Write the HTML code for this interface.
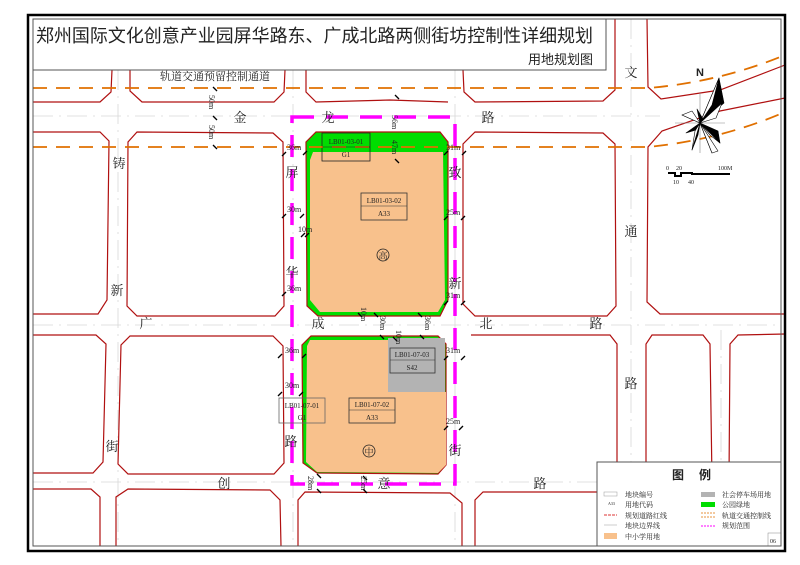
<!DOCTYPE html>
<html><head><meta charset="utf-8"><style>
html,body{margin:0;padding:0;background:#fff;width:800px;height:565px;overflow:hidden}
svg{display:block}
text{font-family:"Liberation Serif","Noto Serif CJK SC","Noto Sans CJK SC",serif;fill:#222}
.s{font-family:"Liberation Sans","Noto Sans CJK SC",sans-serif}
.r{font-size:13px}
.d{font-size:8px}
.b{fill:none;stroke:#b01010;stroke-width:1.2}
.c{fill:none;stroke:#d8d8d8;stroke-width:0.8;stroke-dasharray:20 6 2 6}
</style></head><body>
<svg width="800" height="565" viewBox="0 0 800 565" xmlns="http://www.w3.org/2000/svg">
<rect width="800" height="565" fill="#fff"/>
<g class="c">
<line x1="33" y1="116" x2="660" y2="116"/><line x1="33" y1="325" x2="781" y2="325"/><line x1="33" y1="482" x2="600" y2="482"/>
<line x1="118" y1="70" x2="118" y2="546"/><line x1="293" y1="70" x2="293" y2="546"/><line x1="455" y1="70" x2="455" y2="546"/><line x1="631" y1="19" x2="631" y2="546"/><line x1="721" y1="330" x2="721" y2="460"/>
</g>
<g class="b">
<path d="M33 102 L100 102 L111 92 L112 70"/>
<path d="M130 70 L130 91 L142 102 L274 102 L284 92 L285 70"/>
<path d="M306 70 L306 92 L316 102 L390 100 L448 102"/>
<path d="M463 70 L464 92 L475 102 L603 101 L615 90 L615 19"/>
<path d="M647 19 L648 87 L661 99 L720 90 L785 65"/>
<path d="M33 132 L100 132 L109 141 L107 300 L98 314 L33 314"/>
<path d="M137 132 L273 133 L283 142 L284 306 L275 316 L137 316 L127 306 L128 142 Z"/>
<path d="M475 132 L603 133 L615 144 L616 306 L607 316 L475 316 L463 304 L463 144 Z"/>
<path d="M785 98 L720 111 L662 131 L648 147 L647 302 L660 314 L785 314"/>
<path d="M33 335 L96 335 L106 344 L103 462 L93 473 L33 473"/>
<path d="M130 336 L273 336 L283 346 L284 463 L274 474 L128 474 L118 464 L121 345 Z"/>
<path d="M471 335 L610 335 L617 344 L617 480"/>
<path d="M646 480 L646 344 L652 335 L703 335 L710 344 L712 480"/>
<path d="M729 480 L730 344 L738 335 L785 334"/>
<path d="M33 489 L91 489 L100 497 L100 546"/>
<path d="M116 546 L116 497 L128 489 L270 490 L280 500 L281 546"/>
<path d="M298 546 L298 500 L305 492 L450 493 L462 503 L462 546"/>
<path d="M475 546 L475 500 L483 492 L597 492"/>
</g>
<path d="M316 132 L440 132 L448 142 L448 300 L440 316 L318 316 L307 306 L306 142 Z" fill="#00dd00" stroke="#b01010" stroke-width="1.2"/>
<path d="M313 152 L443 152 L445 300 L438 312 L320 312 L310 300 L310 160 Z" fill="#f8c18c"/>
<rect x="322" y="133" width="48" height="28" fill="none" stroke="#222" stroke-width="0.8"/>
<path d="M311 336 L438 336 L446 344 L446 465 L438 474 L317 473 L303 463 L302 345 Z" fill="#00dd00" stroke="#b01010" stroke-width="1.2"/>
<path d="M310 340 L388 340 L388 392 L446 392 L446 465 L438 473 L317 472 L306 462 L307 346 Z" fill="#f8c18c"/>
<rect x="388" y="338" width="57" height="54" fill="#b3b3b3"/>
<g fill="none" stroke="#e07000" stroke-width="1.8" stroke-dasharray="14 9">
<path d="M33 88 L648 88 Q720 82 785 55"/>
<path d="M33 147 L648 147 Q720 140 785 112"/>
</g>
<path d="M292 117 L455 117 L455 484 L292 484 Z" fill="none" stroke="#ff00ff" stroke-width="3.5" stroke-dasharray="22 12"/>
<!-- dimension ticks -->
<g stroke="#000" stroke-width="1.3">
<line x1="282" y1="156" x2="286" y2="152"/><line x1="303" y1="155" x2="307" y2="151"/>
<line x1="444" y1="155" x2="448" y2="151"/><line x1="462" y1="155" x2="466" y2="151"/>
<line x1="282" y1="218" x2="286" y2="214"/><line x1="300" y1="218" x2="304" y2="214"/>
<line x1="301" y1="237" x2="305" y2="233"/><line x1="305" y1="237" x2="309" y2="233"/>
<line x1="444" y1="220" x2="448" y2="216"/><line x1="461" y1="220" x2="465" y2="216"/>
<line x1="282" y1="296" x2="286" y2="292"/><line x1="444" y1="305" x2="448" y2="301"/><line x1="461" y1="305" x2="465" y2="301"/>
<line x1="358" y1="313" x2="362" y2="317"/><line x1="374" y1="313" x2="378" y2="317"/><line x1="418" y1="313" x2="422" y2="317"/>
<line x1="393" y1="337" x2="397" y2="341"/><line x1="380" y1="335" x2="384" y2="339"/><line x1="420" y1="335" x2="424" y2="339"/>
<line x1="278" y1="358" x2="282" y2="354"/><line x1="302" y1="358" x2="306" y2="354"/>
<line x1="444" y1="360" x2="448" y2="356"/><line x1="461" y1="360" x2="465" y2="356"/>
<line x1="278" y1="396" x2="282" y2="392"/><line x1="299" y1="396" x2="303" y2="392"/>
<line x1="444" y1="430" x2="448" y2="426"/><line x1="459" y1="430" x2="463" y2="426"/>
<line x1="317" y1="474" x2="321" y2="478"/><line x1="317" y1="489" x2="321" y2="493"/>
<line x1="363" y1="476" x2="367" y2="480"/><line x1="363" y1="489" x2="367" y2="493"/>
<line x1="395" y1="95" x2="399" y2="99"/><line x1="395" y1="159" x2="399" y2="163"/>
<line x1="213" y1="87" x2="217" y2="91"/><line x1="213" y1="116" x2="217" y2="120"/><line x1="213" y1="145" x2="217" y2="149"/>
</g>
<g class="s" font-size="7" text-anchor="middle">
<line x1="322" y1="147" x2="370" y2="147" stroke="#222" stroke-width="0.5"/>
<text x="346" y="144">LB01-03-01</text><text x="346" y="157">G1</text>
<rect x="361" y="193" width="46" height="27" fill="none" stroke="#333" stroke-width="0.8"/>
<line x1="361" y1="206" x2="407" y2="206" stroke="#333" stroke-width="0.5"/>
<text x="384" y="203">LB01-03-02</text><text x="384" y="216">A33</text>
<rect x="390" y="348" width="45" height="25" fill="none" stroke="#333" stroke-width="0.8"/>
<line x1="390" y1="360" x2="435" y2="360" stroke="#333" stroke-width="0.5"/>
<text x="412" y="357">LB01-07-03</text><text x="412" y="370">S42</text>
<rect x="349" y="398" width="46" height="25" fill="none" stroke="#333" stroke-width="0.8"/>
<line x1="349" y1="410" x2="395" y2="410" stroke="#333" stroke-width="0.5"/>
<text x="372" y="407">LB01-07-02</text><text x="372" y="420">A33</text>
<rect x="279" y="398" width="46" height="25" fill="none" stroke="#666" stroke-width="0.8"/>
<text x="302" y="408">LB01-07-01</text><text x="302" y="420">G1</text>
</g>
<circle cx="383" cy="255" r="6" fill="none" stroke="#222" stroke-width="0.8"/><text x="383" y="259" font-size="9" text-anchor="middle">高</text>
<circle cx="369" cy="451" r="6" fill="none" stroke="#222" stroke-width="0.8"/><text x="369" y="455" font-size="9" text-anchor="middle">中</text>
<g class="r" text-anchor="middle">
<text x="240" y="122">金</text><text x="328" y="122">龙</text><text x="488" y="122">路</text>
<text x="631" y="77">文</text><text x="119" y="168">铸</text><text x="292" y="177">屏</text><text x="455" y="177">致</text>
<text x="292" y="277">华</text><text x="455" y="288">新</text><text x="117" y="295">新</text><text x="631" y="236">通</text>
<text x="146" y="328">广</text><text x="318" y="328">成</text><text x="486" y="328">北</text><text x="596" y="328">路</text>
<text x="631" y="388">路</text><text x="112" y="451">街</text><text x="291" y="446">路</text><text x="455" y="455">街</text>
<text x="224" y="488">创</text><text x="384" y="488">意</text><text x="540" y="488">路</text>
</g>
<text x="215" y="80" font-size="11" text-anchor="middle">轨道交通预留控制通道</text>
<g class="d">
<text x="287" y="150">36m</text><text x="446" y="150">31m</text><text x="287" y="212">30m</text><text x="298" y="232">10m</text>
<text x="446" y="215">25m</text><text x="287" y="291">36m</text><text x="446" y="298">31m</text>
<text x="285" y="353">36m</text><text x="446" y="353">31m</text><text x="285" y="388">30m</text><text x="446" y="424">25m</text>
<text transform="translate(392,115) rotate(90)">56m</text><text transform="translate(392,140) rotate(90)">47m</text>
<text transform="translate(209,95) rotate(90)">50m</text><text transform="translate(209,125) rotate(90)">50m</text>
<text transform="translate(361,307) rotate(90)">10m</text><text transform="translate(380,316) rotate(90)">30m</text><text transform="translate(425,316) rotate(90)">36m</text>
<text transform="translate(396,330) rotate(90)">10m</text>
<text transform="translate(308,476) rotate(90)">28m</text><text transform="translate(361,476) rotate(90)">25m</text>
</g>
<!-- compass -->
<g transform="translate(700,123)" stroke="#000" stroke-width="0.6" stroke-linejoin="round">
<line x1="-25" y1="0" x2="25" y2="0" stroke="#888"/>
<line x1="0" y1="-30" x2="0" y2="30" stroke="#888"/>
<polygon points="0,0 19,-45 24,-20" fill="#000"/>
<polygon points="0,0 19,-45 12,-18" fill="#fff"/>
<polygon points="0,0 22,-20 16,-5" fill="#fff"/>
<polygon points="0,0 -18,-8 -6,-3" fill="#000"/>
<polygon points="0,0 -18,-8 -8,-12" fill="#fff"/>
<polygon points="0,0 -14,10 -4,7" fill="#000"/>
<polygon points="0,0 -8,27 -2,12" fill="#000"/>
<polygon points="0,0 -8,27 -5,8" fill="#fff"/>
<polygon points="0,0 12,30 6,10" fill="#000"/>
<polygon points="0,0 12,30 18,28" fill="#fff"/>
<polygon points="0,0 20,20 18,8" fill="#000"/>
<polygon points="0,0 20,20 10,12" fill="#fff"/>
<polygon points="0,0 -3,-14 3,-4" fill="#000"/>
<text x="0" y="-47" font-size="11" font-weight="bold" text-anchor="middle" class="s" stroke="none" fill="#000">N</text>
</g>
<g stroke="#000" stroke-width="2" fill="none"><path d="M668 173 L675 173 L675 176 L681 176 L681 173 L692 173 L692 174 L730 174"/></g>
<g font-size="6"><text x="666" y="170">0</text><text x="676" y="170">20</text><text x="718" y="170">100M</text><text x="673" y="184">10</text><text x="688" y="184">40</text></g>
<rect x="597" y="462" width="184" height="84" fill="#fff" stroke="#555" stroke-width="1"/>
<text x="678" y="479" font-size="12" font-weight="bold" text-anchor="middle" class="s">图</text><text x="705" y="479" font-size="12" font-weight="bold" text-anchor="middle" class="s">例</text>
<g font-size="7">
<rect x="604" y="492" width="13" height="4" fill="none" stroke="#999" stroke-width="0.5"/><text x="625" y="497">地块编号</text>
<text x="608" y="505" font-size="4">A33</text><text x="625" y="507">用地代码</text>
<line x1="604" y1="515" x2="617" y2="515" stroke="#e99" stroke-width="2" stroke-dasharray="3 1"/><text x="625" y="518">规划道路红线</text>
<line x1="604" y1="525" x2="617" y2="525" stroke="#ccc" stroke-width="1"/><text x="625" y="528">地块边界线</text>
<rect x="604" y="533" width="13" height="6" fill="#f8c18c"/><text x="625" y="539">中小学用地</text>
<rect x="701" y="492" width="14" height="5" fill="#b3b3b3"/><text x="722" y="497">社会停车场用地</text>
<rect x="701" y="502" width="14" height="5" fill="#00dd00"/><text x="722" y="507">公园绿地</text>
<line x1="701" y1="513" x2="715" y2="513" stroke="#e07000" stroke-width="0.7" stroke-dasharray="2 1"/><line x1="701" y1="517" x2="715" y2="517" stroke="#e07000" stroke-width="0.7" stroke-dasharray="2 1"/><text x="722" y="518">轨道交通控制线</text>
<line x1="701" y1="526" x2="715" y2="526" stroke="#f0f" stroke-width="1" stroke-dasharray="2 1"/><text x="722" y="528">规划范围</text>
</g>
<rect x="768" y="533" width="13" height="13" fill="none" stroke="#888" stroke-width="0.5"/><text x="770" y="543" font-size="6">06</text>
<rect x="33" y="19" width="573" height="51" fill="#fff" stroke="#555" stroke-width="1"/>
<text x="36" y="42" font-size="18" class="s" textLength="557" lengthAdjust="spacingAndGlyphs">郑州国际文化创意产业园屏华路东、广成北路两侧街坊控制性详细规划</text>
<text x="593" y="64" font-size="13" class="s" text-anchor="end">用地规划图</text>
<rect x="28" y="15" width="757" height="536" fill="none" stroke="#000" stroke-width="2.5"/>
<rect x="33" y="19" width="748" height="527" fill="none" stroke="#555" stroke-width="1"/>
</svg>
</body></html>
